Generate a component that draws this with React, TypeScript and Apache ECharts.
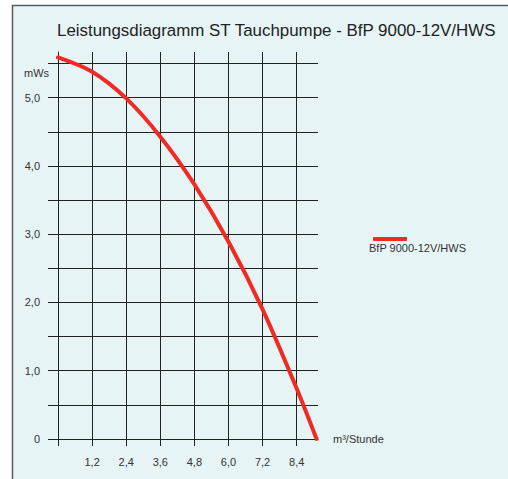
import React, { useEffect, useRef } from 'react';
import * as echarts from 'echarts';

// Data
const flowTickValues = [0, 1.2, 2.4, 3.6, 4.8, 6.0, 7.2, 8.4];
const flowLabelValues = [1.2, 2.4, 3.6, 4.8, 6.0, 7.2, 8.4];
const headTickValues = [0, 0.5, 1, 1.5, 2, 2.5, 3, 3.5, 4, 4.5, 5, 5.5];
const headLabelValues = [0, 1, 2, 3, 4, 5];
const flowValues = [0, 1.2, 2.4, 3.6, 4.8, 6.0, 7.2, 8.4, 9.1];
const headValues = [5.59, 5.38, 4.99, 4.43, 3.73, 2.89, 1.9, 0.74, 0];
const seriesName = 'BfP 9000-12V/HWS';
const titleText = 'Leistungsdiagramm ST Tauchpumpe - BfP 9000-12V/HWS';

const FONT = "'Liberation Sans', Arial, sans-serif";
const fmt = (v: number) => (v === 0 ? '0' : v.toFixed(1).replace('.', ','));

export default function App() {
  const ref = useRef<HTMLDivElement>(null);
  useEffect(() => {
    if (!ref.current) return;
    const chart = echarts.init(ref.current, undefined, { renderer: 'svg' });
    const gridColor = '#222';
    chart.setOption({
      animation: false,
      backgroundColor: '#ffffff',
      title: {
        text: titleText,
        left: 52,
        top: 17,
        textStyle: { fontFamily: FONT, fontSize: 16.9, fontWeight: 'normal', color: '#222' },
      },
      legend: {
        left: 368,
        top: 232,
        data: [seriesName],
        icon: 'roundRect',
        itemWidth: 34,
        itemHeight: 4,
        formatter: () => '',
      },
      grid: { left: 58, top: 52, width: 260, height: 387, containLabel: false },
      xAxis: {
        type: 'value',
        min: 0,
        max: 9.15,
        interval: 1.2,
        name: 'm³/Stunde',
        nameLocation: 'end',
        nameGap: 15,
        nameTextStyle: { fontFamily: FONT, fontSize: 11, color: '#333' },
        axisLine: { show: true, lineStyle: { color: gridColor, width: 1 } },
        axisTick: { show: true, length: 7, customValues: flowTickValues, lineStyle: { color: gridColor } },
        splitLine: { show: true, lineStyle: { color: gridColor, width: 1 } },
        axisLabel: {
          customValues: flowLabelValues,
          formatter: (v: number) => fmt(v),
          margin: 17,
          fontFamily: FONT,
          fontSize: 11,
          color: '#333',
        },
      },
      yAxis: {
        type: 'value',
        min: 0,
        max: 5.67,
        interval: 0.5,
        axisLine: { show: true, lineStyle: { color: gridColor, width: 1 } },
        axisTick: { show: true, length: 10, customValues: headTickValues, lineStyle: { color: gridColor } },
        splitLine: { show: true, lineStyle: { color: gridColor, width: 1 } },
        axisLabel: {
          customValues: headLabelValues,
          formatter: (v: number) => fmt(v),
          margin: 18,
          fontFamily: FONT,
          fontSize: 11,
          color: '#333',
        },
      },
      graphic: [
        {
          type: 'rect',
          z: -100,
          silent: true,
          shape: { x: 12.5, y: 5.5, width: 560, height: 540 },
          style: { fill: '#e6f4f5', stroke: '#5a5a5a', lineWidth: 1.5 },
        },
        {
          type: 'text',
          left: 24,
          top: 67,
          style: { text: 'mWs', fontFamily: FONT, fontSize: 11, fill: '#333' },
        },
        {
          type: 'text',
          left: 369,
          top: 242,
          style: { text: seriesName, fontFamily: FONT, fontSize: 11, fill: '#333' },
        },
      ],
      series: [
        {
          name: seriesName,
          type: 'line',
          data: flowValues.map((x, i) => [x, headValues[i]]),
          smooth: 0.3,
          showSymbol: false,
          clip: false,
          color: '#ee2b25',
          lineStyle: { color: '#ee2b25', width: 4, cap: 'round' },
        },
      ],
    });
    return () => chart.dispose();
  }, []);
  return <div ref={ref} style={{ position: 'absolute', left: 0, top: 0, width: 508, height: 479 }} />;
}
